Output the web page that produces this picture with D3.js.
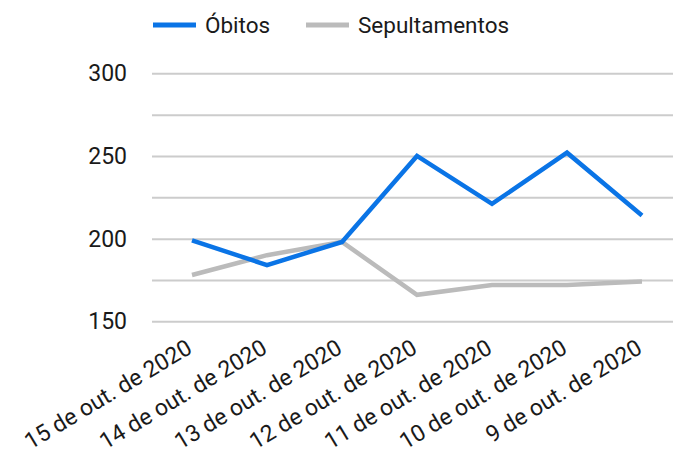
<!DOCTYPE html>
<meta charset="utf-8">
<style>
  body { margin: 0; background: #fff; }
  text { font-family: Roboto, "Noto Sans", sans-serif; fill: #1a1a1a; }
</style>
<body>
<div id="chart"></div>
<script src="https://d3js.org/d3.v7.min.js"></script>
<script>

// Data
var dias = ["15 de out. de 2020", "14 de out. de 2020", "13 de out. de 2020",
            "12 de out. de 2020", "11 de out. de 2020", "10 de out. de 2020",
            "9 de out. de 2020"];
var obitos = [199, 184, 198, 250, 221, 252, 214];
var sepultamentos = [178, 190, 198, 166, 172, 172, 174];
var yTicks = [150, 175, 200, 225, 250, 275, 300];
var yLabels = [150, 200, 250, 300];

var W = 673, H = 457;

var svg = d3.select("#chart").append("svg")
    .attr("width", W)
    .attr("height", H);

var x = d3.scalePoint().domain(dias).range([154.5, 679.5]).padding(0.5);
var y = d3.scaleLinear().domain([150, 300]).range([321.3, 73.3]);

// gridlines + y labels
var yAxis = svg.append("g")
    .attr("transform", "translate(152,0)")
    .call(d3.axisLeft(y).tickValues(yTicks).tickSize(-(W - 152))
      .tickFormat(function(d) { return yLabels.indexOf(d) >= 0 ? d : ""; }));
yAxis.select(".domain").remove();
yAxis.selectAll(".tick line")
    .attr("stroke", "#cccccc")
    .attr("stroke-width", 2);
yAxis.selectAll(".tick text")
    .attr("x", -25)
    .attr("fill", "#1a1a1a")
    .style("font-size", "23px")
    .style("font-family", "Roboto");

// x labels, rotated
var xAxis = svg.append("g")
    .attr("transform", "translate(0,330)")
    .call(d3.axisBottom(x).tickSize(0));
xAxis.select(".domain").remove();
xAxis.selectAll(".tick text")
    .attr("y", 0)
    .attr("dy", 0)
    .attr("transform", "translate(1,22) rotate(-31)")
    .attr("text-anchor", "end")
    .attr("fill", "#1a1a1a")
    .style("font-size", "23px")
    .style("font-family", "Roboto");

var line = d3.line()
    .x(function(d, i) { return x(dias[i]); })
    .y(function(d) { return y(d); });

var series = [
  {name: "Sepultamentos", values: sepultamentos, color: "#bbbbbb"},
  {name: "Óbitos", values: obitos, color: "#0a74e6"}
];

svg.selectAll(".serie")
    .data(series)
    .enter().append("path")
    .attr("class", "serie")
    .attr("d", function(d) { return line(d.values); })
    .attr("fill", "none")
    .attr("stroke", function(d) { return d.color; })
    .attr("stroke-width", 4.5)
    .attr("stroke-linejoin", "miter");

// legend
var legend = [
  {name: "Óbitos", color: "#0a74e6", x: 153},
  {name: "Sepultamentos", color: "#bbbbbb", x: 306}
];
var lg = svg.selectAll(".legend")
    .data(legend)
    .enter().append("g")
    .attr("class", "legend")
    .attr("transform", function(d) { return "translate(" + d.x + ",25)"; });
lg.append("line")
    .attr("x1", 0).attr("x2", 43)
    .attr("stroke", function(d) { return d.color; })
    .attr("stroke-width", 5);
lg.append("text")
    .attr("x", 52)
    .attr("dy", "0.35em")
    .style("font-size", "22.5px")
    .text(function(d) { return d.name; });

</script>
</body>
